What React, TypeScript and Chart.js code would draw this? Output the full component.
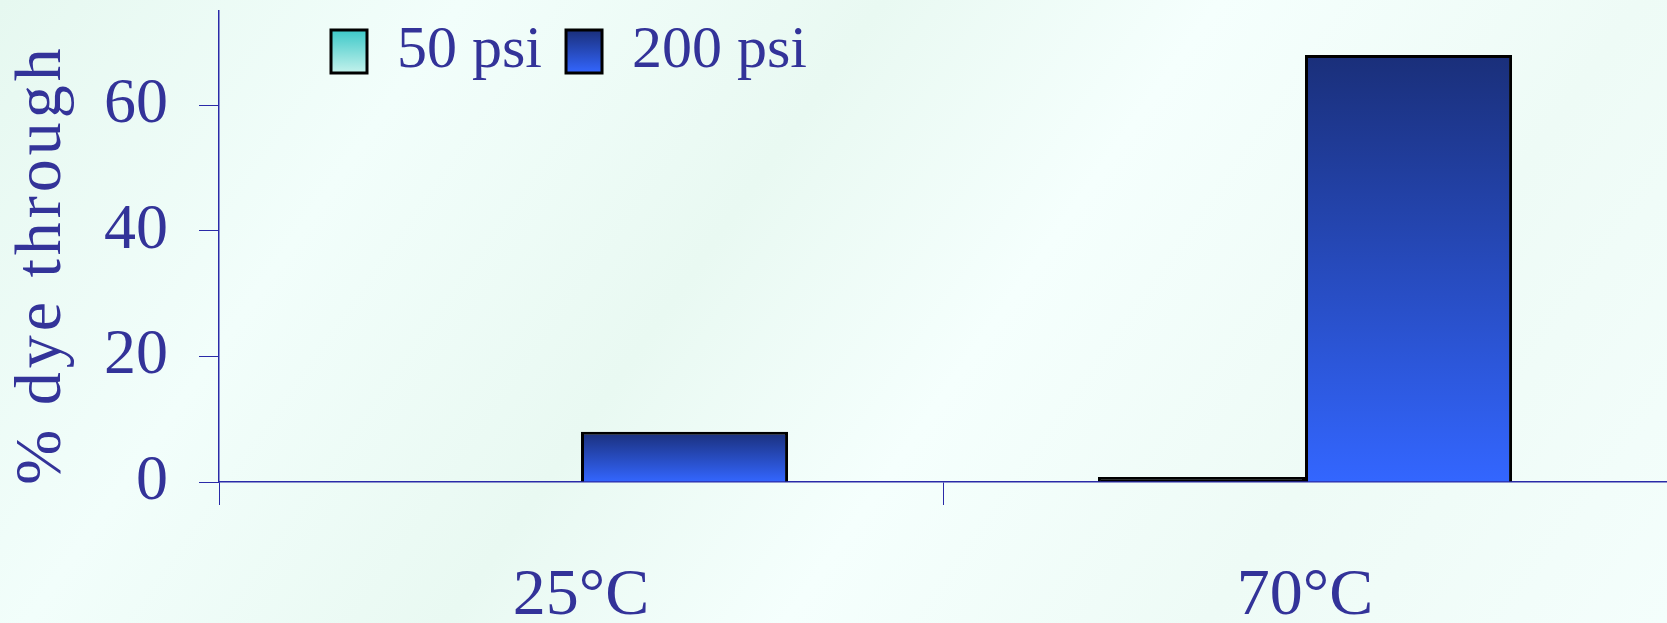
import React, { useEffect, useRef } from 'react';
import { Chart, registerables } from 'chart.js';

Chart.register(...registerables);

// ---- data ----
const categories = ['25°C', '70°C'];
const seriesNames = ['50 psi', '200 psi'];
const psi50 = [0, 0.8];
const psi200 = [8, 68];
const yTickValues = [0, 20, 40, 60];
const yMax = 75;
const yTitle = '% dye through';

// ---- style ----
const TEXT = '#333399';
const AXIS = '#2a2aa8';
const FONT = "'Liberation Serif', 'Times New Roman', serif";
const TEAL_TOP = '#3cc8c8';
const TEAL_BOTTOM = '#c4f2ec';
const BLUE_TOP = '#1a2f7a';
const BLUE_BOTTOM = '#3366ff';

function barFill(top: string, bottom: string) {
  return (c: any) => {
    const chart = c.chart;
    const y = chart.scales && chart.scales.y;
    if (!y || c.dataIndex === undefined) return bottom;
    const v = c.raw as number;
    const yTop = y.getPixelForValue(v);
    const yBase = y.getPixelForValue(0);
    if (!isFinite(yTop) || !isFinite(yBase)) return bottom;
    if (yBase - yTop < 8) return '#000000';
    const g = chart.ctx.createLinearGradient(0, yTop, 0, yBase);
    g.addColorStop(0, top);
    g.addColorStop(1, bottom);
    return g;
  };
}

export default function App() {
  const ref = useRef<HTMLCanvasElement>(null);

  useEffect(() => {
    document.body.style.margin = '0';
    const canvas = ref.current!;
    const LEG_PAD = 24;

    const stylePlugin = {
      id: 'stylePlugin',
      beforeDraw(chart: any) {
        const lg = chart.legend;
        if (lg) {
          lg.left = chart.chartArea.left + 112 - LEG_PAD;
          lg.top = 21.5 - LEG_PAD;
          lg.right = chart.width;
          lg.bottom = 130;
          lg.width = lg.right - lg.left;
          lg.height = lg.bottom - lg.top;
        }
        const ys = chart.scales.y;
        if (ys && !ys.__styled) {
          const orig = ys.drawTitle.bind(ys);
          ys.drawTitle = function () {
            const ctx = this.ctx;
            ctx.save();
            ctx.translate(0, 18);
            ctx.letterSpacing = '4px';
            orig();
            ctx.restore();
          };
          ys.__styled = true;
        }
      },
    };

    const chart = new Chart(canvas, {
      type: 'bar',
      data: {
        labels: categories,
        datasets: [
          {
            label: seriesNames[0],
            data: psi50,
            backgroundColor: barFill(TEAL_TOP, TEAL_BOTTOM),
            borderColor: '#000000',
            borderWidth: 3,
            borderSkipped: 'start',
            categoryPercentage: 0.572,
            barPercentage: 1,
          },
          {
            label: seriesNames[1],
            data: psi200,
            backgroundColor: barFill(BLUE_TOP, BLUE_BOTTOM),
            borderColor: '#000000',
            borderWidth: 3,
            borderSkipped: 'start',
            categoryPercentage: 0.572,
            barPercentage: 1,
          },
        ],
      },
      options: {
        responsive: false,
        animation: false,
        events: [],
        layout: { padding: { top: 10, left: 0, right: 0, bottom: 0 } },
        plugins: {
          tooltip: { enabled: false },
          legend: {
            display: true,
            position: 'top',
            align: 'start',
            maxHeight: 1,
            labels: {
              color: TEXT,
              font: { family: FONT, size: 60 },
              boxWidth: 36,
              boxHeight: 43,
              padding: LEG_PAD,
              generateLabels: (ch: any) => {
                const items = Chart.defaults.plugins.legend.labels.generateLabels(ch);
                const cols = [
                  [TEAL_TOP, TEAL_BOTTOM],
                  [BLUE_TOP, BLUE_BOTTOM],
                ];
                return items.map((it: any, i: number) => {
                  const g = ch.ctx.createLinearGradient(0, 30, 0, 73);
                  g.addColorStop(0, cols[i][0]);
                  g.addColorStop(1, cols[i][1]);
                  return { ...it, fillStyle: g, strokeStyle: '#000000', lineWidth: 3 };
                });
              },
            },
          },
        },
        scales: {
          x: {
            offset: true,
            afterFit: (s: any) => {
              s.height = 141;
              s.paddingLeft = 0;
              s.paddingRight = 0;
            },
            grid: {
              display: true,
              offset: true,
              drawOnChartArea: false,
              drawTicks: true,
              tickLength: 23,
              color: AXIS,
              lineWidth: 1,
            },
            border: { display: true, color: AXIS, width: 1.5 },
            ticks: {
              color: TEXT,
              font: { family: FONT, size: 66, lineHeight: 0.79 },
              padding: 66,
              maxRotation: 0,
              autoSkip: false,
            },
          },
          y: {
            min: 0,
            max: yMax,
            afterBuildTicks: (s: any) => {
              s.ticks = yTickValues.map((v) => ({ value: v }));
            },
            afterFit: (s: any) => {
              s.width = 219;
              s.paddingTop = 0;
              s.paddingBottom = 0;
            },
            grid: {
              drawOnChartArea: false,
              drawTicks: true,
              tickLength: 20,
              color: AXIS,
              lineWidth: 1,
            },
            border: { display: true, color: AXIS, width: 1.5 },
            ticks: {
              color: TEXT,
              font: { family: FONT, size: 64, lineHeight: 1 },
              padding: 31,
            },
            title: {
              display: true,
              text: yTitle,
              color: TEXT,
              font: { family: FONT, size: 66, lineHeight: 1 },
              padding: { top: 10, bottom: 0 },
            },
          },
        },
      },
      plugins: [stylePlugin],
    } as any);

    return () => chart.destroy();
  }, []);

  return (
    <div
      style={{
        width: 1667,
        height: 623,
        position: 'relative',
        overflow: 'hidden',
        background:
          'linear-gradient(125deg, #e6f8f0 0%, #f2fefb 22%, #e9f9f2 42%, #f5fffd 58%, #eefbf6 78%, #f4fefc 100%)',
      }}
    >
      <canvas ref={ref} width={1667} height={623} style={{ display: 'block' }} />
    </div>
  );
}
